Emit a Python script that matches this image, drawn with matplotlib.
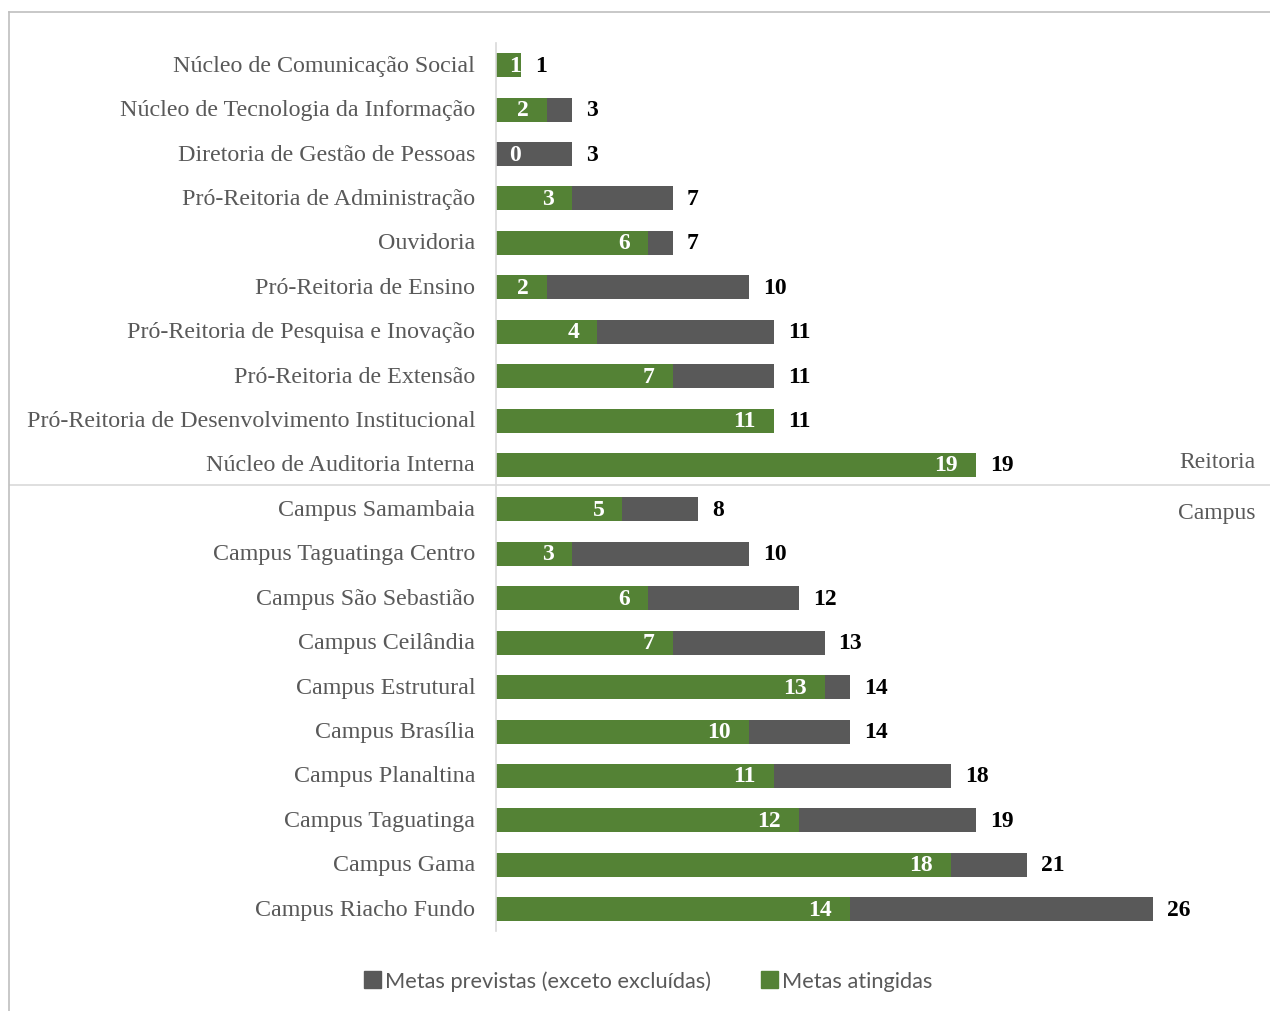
import matplotlib
matplotlib.use("Agg")
import matplotlib.pyplot as plt
from matplotlib.lines import Line2D
from matplotlib.patches import Patch

# Metas por unidade (de cima para baixo)
unidades = [
    "Núcleo de Comunicação Social",
    "Núcleo de Tecnologia da Informação",
    "Diretoria de Gestão de Pessoas",
    "Pró-Reitoria de Administração",
    "Ouvidoria",
    "Pró-Reitoria de Ensino",
    "Pró-Reitoria de Pesquisa e Inovação",
    "Pró-Reitoria de Extensão",
    "Pró-Reitoria de Desenvolvimento Institucional",
    "Núcleo de Auditoria Interna",
    "Campus Samambaia",
    "Campus Taguatinga Centro",
    "Campus São Sebastião",
    "Campus Ceilândia",
    "Campus Estrutural",
    "Campus Brasília",
    "Campus Planaltina",
    "Campus Taguatinga",
    "Campus Gama",
    "Campus Riacho Fundo",
]
metas_previstas = [1, 3, 3, 7, 7, 10, 11, 11, 11, 19, 8, 10, 12, 13, 14, 14, 18, 19, 21, 26]
metas_atingidas = [1, 2, 0, 3, 6, 2, 4, 7, 11, 19, 5, 3, 6, 7, 13, 10, 11, 12, 18, 14]
grupos = ["Reitoria", "Campus"]

VERDE = "#548235"
CINZA = "#595959"
TEXTO = "#595959"
SERIF = "Liberation Serif"

W, H = 1270, 1012
fig = plt.figure(figsize=(W / 100, H / 100), dpi=100)

x0, x1 = 496, 1205
y_top, y_bot = 44, 932.4
ax = fig.add_axes([x0 / W, 1 - y_bot / H, (x1 - x0) / W, (y_bot - y_top) / H])
ppu = (1153 - 496) / 26  # pixels por meta
ax.set_xlim(0, (x1 - x0) / ppu)
ax.set_ylim(len(unidades) - 0.5, -0.5)

y = list(range(len(unidades)))
ax.barh(y, metas_previstas, height=0.54, color=CINZA)
ax.barh(y, metas_atingidas, height=0.54, color=VERDE)

for i, (p, a) in enumerate(zip(metas_previstas, metas_atingidas)):
    # rótulo dentro da barra verde, afastado da ponta
    xr = max(a * ppu - 18, 25) / ppu
    ax.text(xr, i, str(a), ha="right", va="center", color="white",
            fontsize=17, fontweight="bold", family=SERIF)
    ax.annotate(str(p), (p, i), xytext=(14, 0), textcoords="offset pixels",
                ha="left", va="center", color="black", fontsize=17,
                fontweight="bold", family=SERIF)

ax.set_yticks(y)
ax.set_yticklabels(unidades, family=SERIF, fontsize=17.3, color=TEXTO, va="center")
ax.tick_params(axis="y", length=0, pad=15)
ax.set_xticks([])
for s in ["top", "right", "bottom"]:
    ax.spines[s].set_visible(False)
ax.spines["left"].set_color("#d9d9d9")
ax.spines["left"].set_linewidth(1.2)

# divisória entre os grupos
sep = 1 - 486 / H
fig.add_artist(Line2D([10 / W, 1], [sep, sep], color="#d9d9d9", lw=1.2))
fig.text(1217 / W, 1 - 462 / H, grupos[0], ha="center", va="center",
         family=SERIF, fontsize=17, color=TEXTO)
fig.text(1217 / W, 1 - 514 / H, grupos[1], ha="center", va="center",
         family=SERIF, fontsize=17, color=TEXTO)

# moldura
fig.add_artist(Line2D([9 / W, 1], [1 - 13 / H, 1 - 13 / H], color="#bfbfbf", lw=1.2))
fig.add_artist(Line2D([9 / W, 9 / W], [0, 1 - 13 / H], color="#bfbfbf", lw=1.2))

handles = [Patch(color=CINZA, label="Metas previstas (exceto excluídas)"),
           Patch(color=VERDE, label="Metas atingidas")]
fig.legend(handles=handles, loc="center", bbox_to_anchor=(648 / W, 1 - 982 / H),
           ncol=2, frameon=False, handlelength=0.8, handleheight=0.8,
           handletextpad=0.15, columnspacing=2.3,
           prop={"family": "Lato", "size": 15.7}, labelcolor=TEXTO)

fig.savefig("out.png", dpi=100)
